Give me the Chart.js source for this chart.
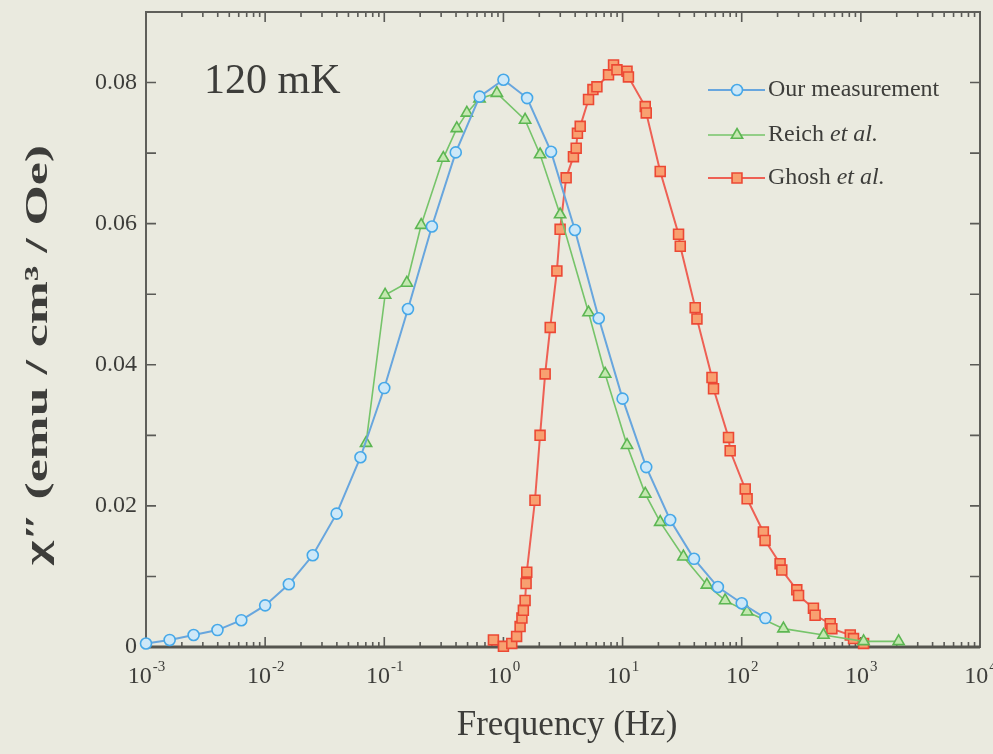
<!DOCTYPE html>
<html>
<head>
<meta charset="utf-8">
<script src="https://cdn.jsdelivr.net/npm/chart.js@4.4.1/dist/chart.umd.min.js"></script>
<style>
  html, body { margin: 0; padding: 0; background: #eaeadf; }
  #wrap { width: 993px; height: 754px; }
</style>
</head>
<body>
<div id="wrap"><canvas id="c" width="993" height="754"></canvas></div>
<script>
// Imaginary susceptibility chi'' versus frequency at 120 mK

// Our measurement
const ourFreq = [0.001, 0.00158, 0.00251, 0.00398, 0.00631, 0.01, 0.0158, 0.0251, 0.0398, 0.0631,
  0.1, 0.158, 0.251, 0.398, 0.631, 1, 1.58, 2.51, 3.98, 6.31,
  10, 15.8, 25.1, 39.8, 63.1, 100, 158];
const ourChi = [0.0005, 0.0010, 0.0017, 0.0024, 0.0038, 0.0059, 0.0089, 0.0130, 0.0189, 0.0269,
  0.0367, 0.0479, 0.0596, 0.0701, 0.0780, 0.0804, 0.0778, 0.0702, 0.0591, 0.0466,
  0.0352, 0.0255, 0.0180, 0.0125, 0.0085, 0.0062, 0.0041];

// Reich et al.
const reichFreq = [0.0703, 0.1016, 0.1546, 0.204, 0.313, 0.406, 0.493, 0.63, 0.881, 1.52,
  2.03, 2.99, 5.18, 7.14, 10.9, 15.5, 20.7, 32.4, 51, 72.6,
  111, 224, 486, 1054, 2075];
const reichChi = [0.0289, 0.0499, 0.0516, 0.0598, 0.0693, 0.0735, 0.0757, 0.0777, 0.0785, 0.0747,
  0.0698, 0.0613, 0.0474, 0.0387, 0.0286, 0.0217, 0.0177, 0.0128, 0.0088, 0.0066,
  0.0050, 0.0026, 0.0017, 0.0008, 0.0008];

// Ghosh et al.
const ghoshFreq = [0.824, 1.0, 1.175, 1.29, 1.38, 1.43, 1.47, 1.52, 1.55, 1.57,
  1.84, 2.03, 2.24, 2.47, 2.81, 2.99, 3.36, 3.87, 4.08, 4.18,
  4.41, 5.18, 5.64, 6.09, 7.62, 8.40, 8.97, 10.9, 11.2, 15.5,
  15.8, 20.7, 29.5, 30.5, 40.7, 42.1, 56.3, 58.0, 77.5, 80.0,
  107, 111, 152, 157, 210, 217, 290, 300, 400, 413,
  553, 571, 815, 868, 1054];
const ghoshChi = [0.0010, 0.0001, 0.0005, 0.0015, 0.0029, 0.0041, 0.0052, 0.0066, 0.0090, 0.0106,
  0.0208, 0.0300, 0.0387, 0.0453, 0.0533, 0.0592, 0.0665, 0.0695, 0.0707, 0.0728,
  0.0738, 0.0776, 0.0790, 0.0794, 0.0811, 0.0825, 0.0818, 0.0816, 0.0808, 0.0766,
  0.0757, 0.0674, 0.0585, 0.0568, 0.0481, 0.0465, 0.0382, 0.0366, 0.0297, 0.0278,
  0.0224, 0.0210, 0.0163, 0.0151, 0.0118, 0.0109, 0.0081, 0.0073, 0.0055, 0.0045,
  0.0033, 0.0026, 0.0017, 0.0012, 0.0005];

// Axis ticks
const xTickValues = [0.001, 0.01, 0.1, 1, 10, 100, 1000, 10000];
const xTickExponents = ['-3', '-2', '-1', '0', '1', '2', '3', '4'];
const yTickValues = [0, 0.02, 0.04, 0.06, 0.08];
const yTickLabels = ['0', '0.02', '0.04', '0.06', '0.08'];

const seriesNames = ['Our measurement', 'Reich', 'Ghosh'];

const SERIF = '"Liberation Serif", "DejaVu Serif", serif';
const INK = '#3d3d3a';
const BG = '#eaeadf';

const toPoints = (xs, ys) => xs.map((x, i) => ({ x: x, y: ys[i] }));

const styles = [
  { line: 'rgb(104,166,222)', edge: 'rgb(70,168,232)', fill: 'rgb(205,232,248)', shape: 'circle', r: 5.5, lw: 2 },
  { line: 'rgb(118,196,106)', edge: 'rgb(92,182,82)', fill: 'rgb(196,232,176)', shape: 'triangle', r: 6.5, lw: 1.6 },
  { line: 'rgb(238,96,84)', edge: 'rgb(236,72,52)', fill: 'rgb(248,160,112)', shape: 'rect', r: 7, lw: 2 }
];

function makeSet(label, pts, s) {
  return {
    label: label,
    data: pts,
    borderColor: s.line,
    borderWidth: s.lw,
    pointStyle: s.shape,
    pointRadius: s.r,
    pointBorderColor: s.edge,
    pointBackgroundColor: s.fill,
    pointBorderWidth: 1.6,
    tension: 0,
    clip: false
  };
}

// text stretched along its direction to a given length
function stretchedText(ctx, text, cx, cy, length) {
  const w = ctx.measureText(text).width;
  ctx.save();
  ctx.translate(cx, cy);
  ctx.scale(length / w, 1);
  ctx.textAlign = 'center';
  ctx.fillText(text, 0, 0);
  ctx.restore();
}

// frame, inward ticks, labels, titles and legend
const decorations = {
  id: 'decorations',
  beforeDraw(chart) {
    const ctx = chart.ctx;
    ctx.save();
    ctx.fillStyle = BG;
    ctx.fillRect(0, 0, chart.width, chart.height);
    ctx.restore();
  },
  beforeDatasetsDraw(chart) {
    const ctx = chart.ctx;
    const a = chart.chartArea;
    const xs = chart.scales.x, ys = chart.scales.y;
    ctx.save();
    ctx.strokeStyle = '#5a5a56';
    ctx.lineWidth = 1.6;
    // minor and major log ticks on bottom and top
    for (let d = -3; d < 4; d++) {
      for (let m = 1; m < 10; m++) {
        const px = xs.getPixelForValue(m * Math.pow(10, d));
        const len = m === 1 ? 10 : 5;
        ctx.beginPath();
        ctx.moveTo(px, a.bottom); ctx.lineTo(px, a.bottom - len);
        ctx.moveTo(px, a.top); ctx.lineTo(px, a.top + len);
        ctx.stroke();
      }
    }
    // y ticks every 0.01 on left and right
    for (let k = 0; k <= 8; k++) {
      const py = ys.getPixelForValue(k / 100);
      ctx.beginPath();
      ctx.moveTo(a.left, py); ctx.lineTo(a.left + 10, py);
      ctx.moveTo(a.right, py); ctx.lineTo(a.right - 10, py);
      ctx.stroke();
    }
    ctx.lineWidth = 2;
    ctx.strokeStyle = '#5f5f5a';
    ctx.strokeRect(a.left, a.top, a.right - a.left, a.bottom - a.top);
    ctx.beginPath();
    ctx.lineWidth = 3;
    ctx.strokeStyle = '#55554f';
    ctx.moveTo(a.left, a.bottom); ctx.lineTo(a.right, a.bottom);
    ctx.stroke();
    ctx.restore();
  },
  afterDraw(chart) {
    const ctx = chart.ctx;
    const a = chart.chartArea;
    const xs = chart.scales.x, ys = chart.scales.y;
    ctx.save();
    ctx.fillStyle = INK;

    // y tick labels
    ctx.font = '24px ' + SERIF;
    ctx.textAlign = 'right';
    ctx.textBaseline = 'middle';
    yTickValues.forEach((v, i) => {
      ctx.fillText(yTickLabels[i], a.left - 9, ys.getPixelForValue(v));
    });

    // x tick labels: 10 with a raised exponent
    ctx.textBaseline = 'alphabetic';
    ctx.textAlign = 'left';
    xTickValues.forEach((v, i) => {
      const px = xs.getPixelForValue(v);
      ctx.font = '24px ' + SERIF;
      const wBase = ctx.measureText('10').width;
      ctx.font = '15px ' + SERIF;
      const wExp = ctx.measureText(xTickExponents[i]).width;
      const x0 = px - (wBase + wExp) / 2;
      ctx.font = '24px ' + SERIF;
      ctx.fillText('10', x0, a.bottom + 36);
      ctx.font = '15px ' + SERIF;
      ctx.fillText(xTickExponents[i], x0 + wBase + 1, a.bottom + 24);
    });

    // x axis title
    ctx.font = '35px ' + SERIF;
    ctx.textAlign = 'center';
    ctx.fillText('Frequency (Hz)', (a.left + a.right) / 2 + 4, 735);

    // y axis title
    ctx.save();
    ctx.translate(47, 355);
    ctx.rotate(-Math.PI / 2);
    ctx.font = 'bold 32px ' + SERIF;
    stretchedText(ctx, '\u03C7\u2033 (emu / cm\u00B3 / Oe)', 0, 0, 420);
    ctx.restore();

    // temperature annotation
    ctx.font = '42px ' + SERIF;
    ctx.textAlign = 'left';
    ctx.fillText('120 mK', 204, 93);

    // legend
    const rows = [90, 135, 178];
    const parts = [['Our measurement', ''], ['Reich ', 'et al.'], ['Ghosh ', 'et al.']];
    rows.forEach((ry, i) => {
      const s = styles[i];
      ctx.strokeStyle = s.line;
      ctx.lineWidth = s.lw;
      ctx.beginPath();
      ctx.moveTo(708, ry); ctx.lineTo(765, ry);
      ctx.stroke();
      ctx.fillStyle = s.fill;
      ctx.strokeStyle = s.edge;
      ctx.lineWidth = 1.6;
      Chart.helpers.drawPoint(ctx, { pointStyle: s.shape, radius: s.r, borderWidth: 1.6, rotation: 0 }, 737, ry);
      ctx.fillStyle = INK;
      ctx.textBaseline = 'middle';
      ctx.font = '24px ' + SERIF;
      ctx.fillText(parts[i][0], 768, ry);
      const w = ctx.measureText(parts[i][0]).width;
      ctx.font = 'italic 24px ' + SERIF;
      ctx.fillText(parts[i][1], 768 + w, ry);
    });
    ctx.restore();
  }
};

new Chart(document.getElementById('c'), {
  type: 'line',
  data: {
    datasets: [
      makeSet(seriesNames[0], toPoints(ourFreq, ourChi), styles[0]),
      makeSet(seriesNames[1], toPoints(reichFreq, reichChi), styles[1]),
      makeSet(seriesNames[2], toPoints(ghoshFreq, ghoshChi), styles[2])
    ]
  },
  options: {
    responsive: false,
    animation: false,
    devicePixelRatio: 1,
    layout: { padding: { top: 12, right: 13, left: 0, bottom: 0 } },
    plugins: { legend: { display: false }, tooltip: { enabled: false } },
    scales: {
      x: {
        type: 'logarithmic',
        min: 0.001,
        max: 10000,
        grid: { display: false, drawTicks: false },
        border: { display: false },
        ticks: { display: false },
        afterFit(s) { s.height = 107; }
      },
      y: {
        type: 'linear',
        min: 0,
        max: 0.09,
        grid: { display: false, drawTicks: false },
        border: { display: false },
        ticks: { display: false, stepSize: 0.01 },
        afterFit(s) { s.width = 146; }
      }
    }
  },
  plugins: [decorations]
});
</script>
</body>
</html>
